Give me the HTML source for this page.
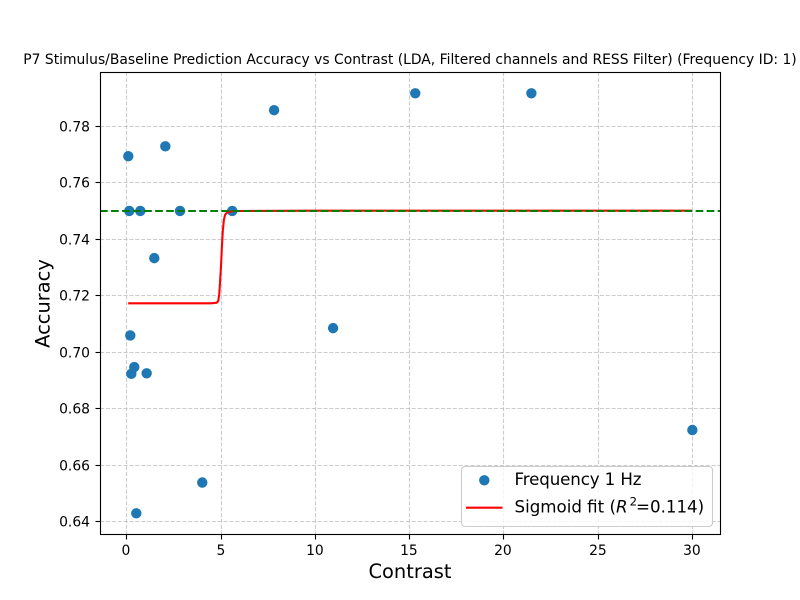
<!DOCTYPE html>
<html lang="en">
<head>
<meta charset="utf-8">
<title>P7 Stimulus/Baseline Prediction Accuracy vs Contrast</title>
<style>
html,body{margin:0;padding:0;background:#fff;}
svg{display:block;}
text{font-family:"DejaVu Sans","Liberation Sans",sans-serif;fill:#000;}
</style>
</head>
<body>
<svg id="chart" xmlns="http://www.w3.org/2000/svg" width="800" height="600" viewBox="0 0 800 600">
  <rect x="0" y="0" width="800" height="600" fill="#fff"/>
  <g id="grid"></g>
  <g id="points"></g>
  <path id="fit" fill="none" stroke="#ff0000" stroke-width="2.08" stroke-linejoin="round" stroke-linecap="butt"/>
  <line id="ref" stroke="#008000" stroke-width="2.08" stroke-dasharray="7.7 3.33"/>
  <rect x="100.5" y="72.5" width="620" height="462" fill="none" stroke="#000" stroke-width="1.11"/>
  <g id="ticks"></g>
  <text x="410" y="64" font-size="13.89" text-anchor="middle">P7 Stimulus/Baseline Prediction Accuracy vs Contrast (LDA, Filtered channels and RESS Filter) (Frequency ID: 1)</text>
  <text x="410" y="578" font-size="19.44" text-anchor="middle">Contrast</text>
  <text transform="translate(49.5,303.5) rotate(-90)" font-size="19.44" text-anchor="middle">Accuracy</text>
  <g>
    <rect x="461.5" y="466.5" width="251" height="60" rx="3.5" ry="3.5" fill="#fff" fill-opacity="0.8" stroke="#cccccc" stroke-width="1.11"/>
    <circle cx="484.3" cy="480.3" r="5.2" fill="#1f77b4"/>
    <text x="514.5" y="485" font-size="16.67" textLength="127">Frequency 1 Hz</text>
    <line x1="466" y1="507.7" x2="502.5" y2="507.7" stroke="#ff0000" stroke-width="2.08"/>
    <text x="514.5" y="512.7" font-size="16.67">Sigmoid fit (<tspan font-style="italic">R</tspan><tspan font-size="11.7" dy="-7" dx="2">2</tspan><tspan dy="7" dx="-1">=0.114)</tspan></text>
  </g>
</svg>
<script>
var contrast = [0.106, 0.159, 0.212, 0.265, 0.424, 0.53, 0.743, 1.08, 1.485, 2.07, 2.85, 4.03, 5.62, 7.84, 10.97, 15.33, 21.49, 30.03];
var accuracy = [0.7694, 0.7500, 0.7059, 0.6923, 0.6947, 0.6429, 0.7500, 0.6925, 0.7333, 0.7729, 0.7500, 0.6538, 0.7500, 0.7857, 0.7085, 0.7917, 0.7917, 0.6724];
var fitContrast = [0.10, 4.50, 4.80, 4.88, 4.93, 4.97, 5.02, 5.07, 5.12, 5.18, 5.25, 5.40, 5.80, 10.00, 20.00, 30.00];
var fitAccuracy = [0.7173, 0.7173, 0.7175, 0.7182, 0.7205, 0.7245, 0.7300, 0.7370, 0.7430, 0.7470, 0.7488, 0.7497, 0.7500, 0.7501, 0.7501, 0.7501];
var referenceAccuracy = [0.75];
var xTickValues = [0, 5, 10, 15, 20, 25, 30];
var xTickLabels = ["0", "5", "10", "15", "20", "25", "30"];
var yTickValues = [0.64, 0.66, 0.68, 0.70, 0.72, 0.74, 0.76, 0.78];
var yTickLabels = ["0.64", "0.66", "0.68", "0.70", "0.72", "0.74", "0.76", "0.78"];

var NS = "http://www.w3.org/2000/svg";
function xScale(v) { return 126.3 + v * 18.85; }
function yScale(v) { return 126.3 + (0.78 - v) * 2822.6; }
function snapX(p) { return Math.round(p) + 0.5; }
function snapY(p) { return Math.floor(p) + 0.5; }
function make(tag, attrs, parent) {
  var el = document.createElementNS(NS, tag);
  for (var k in attrs) { el.setAttribute(k, attrs[k]); }
  parent.appendChild(el);
  return el;
}

var gridG = document.getElementById("grid");
var ticksG = document.getElementById("ticks");
var pointsG = document.getElementById("points");

xTickValues.forEach(function (v, i) {
  var px = snapX(xScale(v));
  var g = make("line", {x1: px, x2: px, y1: 72, y2: 534, stroke: "#b0b0b0", "stroke-opacity": 0.65, "stroke-width": 1.11, "stroke-dasharray": "4.1 1.78"}, gridG);
  
  
  var t = make("line", {x1: px, x2: px, y1: 534.5, y2: 539.5, stroke: "#000", "stroke-width": 1.11}, ticksG);
  
  
  var l = make("text", {x: px - 0.6, y: 555, "font-size": 13.89, "text-anchor": "middle"}, ticksG);
  
  
  l.textContent = xTickLabels[i];
});

yTickValues.forEach(function (v, i) {
  var py = snapY(yScale(v));
  var g = make("line", {x1: 100, x2: 720, y1: py, y2: py, stroke: "#b0b0b0", "stroke-opacity": 0.65, "stroke-width": 1.11, "stroke-dasharray": "4.1 1.78"}, gridG);
  
  
  var t = make("line", {x1: 95.5, x2: 100.5, y1: py, y2: py, stroke: "#000", "stroke-width": 1.11}, ticksG);
  
  
  var l = make("text", {x: 90, y: py + 5, "font-size": 13.89, "text-anchor": "end"}, ticksG);
  
  
  l.textContent = yTickLabels[i];
});

contrast.forEach(function (c, i) {
  var dot = make("circle", {cx: xScale(c), cy: yScale(accuracy[i]), r: 5.2, fill: "#1f77b4"}, pointsG);
  
  
});

document.getElementById("fit").setAttribute("d", fitContrast.map(function (c, i) {
  return (i ? "L" : "M") + xScale(c).toFixed(2) + " " + yScale(fitAccuracy[i]).toFixed(2);
}).join(" "));

var ref = document.getElementById("ref");
ref.setAttribute("x1", 100);
ref.setAttribute("x2", 720);
ref.setAttribute("y1", yScale(referenceAccuracy[0]));
ref.setAttribute("y2", yScale(referenceAccuracy[0]));
</script>
</body>
</html>
